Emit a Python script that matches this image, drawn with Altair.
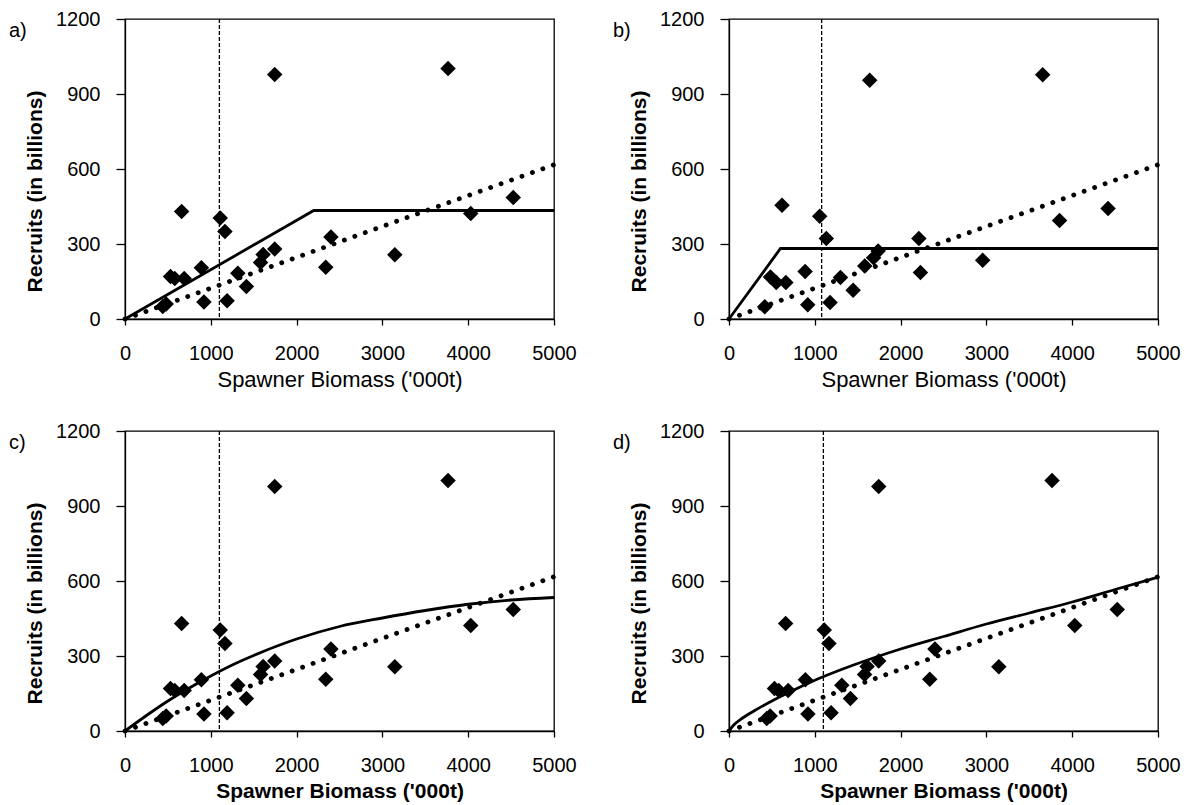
import altair as alt
import pandas as pd

FONT = "Liberation Sans"

# ---- observations (panels a, c, d share the same stock-recruit pairs) ----
ssb = [440, 480, 530, 580, 660, 690, 890, 920, 1110, 1165, 1190, 1315, 1415,
       1580, 1610, 1745, 1745, 2340, 2400, 3145, 3765, 4030, 4525]
rec = [50, 60, 170, 162, 430, 162, 205, 68, 404, 350, 73, 183, 130,
       226, 258, 280, 978, 207, 328, 257, 1002, 422, 486]

# ---- observations for panel b ----
ssb_b = [417, 484, 551, 618, 663, 887, 918, 1057, 1134, 1178, 1299, 1447,
         1582, 1640, 1685, 1738, 2213, 2231, 2957, 3656, 3853, 4418]
rec_b = [49, 168, 146, 455, 146, 190, 57, 411, 322, 66, 166, 115,
         212, 955, 245, 272, 322, 186, 235, 977, 394, 442]

# ---- proportional (dotted) reference line, all panels ----
reg_x = [0, 5000]
reg_y = [0, 617]

# ---- fitted curves ----
hs_a_x = [0, 2200, 5000]
hs_a_y = [0, 434, 434]
hs_b_x = [0, 600, 5000]
hs_b_y = [0, 282, 282]
bh_c_x = [0, 250, 500, 750, 1000, 1250, 1500, 1750, 2000, 2500, 3000, 3500, 4000, 4500, 5000]
bh_c_y = [0, 62, 120, 172, 220, 264, 302, 337, 368, 418, 452, 482, 507, 524, 534]
pw_d_x = [0, 50, 150, 300, 500, 750, 1000, 1250, 1500, 1750, 2000, 2500, 3000, 3500, 4000, 4500, 5000]
pw_d_y = [0, 22, 50, 82, 120, 163, 203, 238, 270, 300, 328, 378, 428, 472, 516, 566, 615]

# ---- vertical dashed reference biomass ----
vline_x = {"a": 1100, "b": 1080, "c": 1100, "d": 1100}

x_ticks = [0, 1000, 2000, 3000, 4000, 5000]
y_ticks = [0, 300, 600, 900, 1200]


def panel(label, px, py, fx, fy, vx, xtitle_weight, xtitle_size, interp):
    xscale = alt.Scale(domain=[0, 5000], nice=False)
    yscale = alt.Scale(domain=[0, 1200], nice=False)
    xaxis = alt.Axis(values=x_ticks, format="d", grid=False, tickSize=6,
                     labelPadding=18, labelFontSize=20, labelFont=FONT,
                     labelColor="black", labelFlush=False, labelOverlap=False,
                     domainColor="black", tickColor="black", domainWidth=1.3,
                     tickWidth=1.3,
                     title="Spawner Biomass ('000t)", titleFont=FONT,
                     titleFontSize=xtitle_size, titleFontWeight=xtitle_weight,
                     titleColor="black", titleY=60, titleBaseline="middle")
    yaxis = alt.Axis(values=y_ticks, format="d", grid=False, tickSize=9,
                     labelPadding=16, labelFontSize=20, labelFont=FONT,
                     labelColor="black", labelFlush=False, labelOverlap=False,
                     domainColor="black", tickColor="black", domainWidth=1.3,
                     tickWidth=1.3,
                     title="Recruits (in billions)", titleFont=FONT,
                     titleFontSize=21, titleFontWeight="bold",
                     titleColor="black", titleX=-90, titleY=172,
                     titleBaseline="middle", titleAngle=-90)
    X = alt.X("x:Q", scale=xscale, axis=xaxis)
    Y = alt.Y("y:Q", scale=yscale, axis=yaxis)

    pts = pd.DataFrame({"x": px, "y": py})
    fit = pd.DataFrame({"x": fx, "y": fy})
    reg = pd.DataFrame({"x": reg_x, "y": reg_y})
    vl = pd.DataFrame({"x": [vx]})
    lab = pd.DataFrame({"t": [label]})

    rule = alt.Chart(vl).mark_rule(color="black", strokeWidth=1.3,
                                   strokeDash=[4, 2]).encode(x=alt.X("x:Q", scale=xscale))
    dotted = alt.Chart(reg).mark_line(color="black", strokeWidth=4.8,
                                      strokeDash=[0.1, 11], strokeCap="round").encode(x=X, y=Y)
    solid = alt.Chart(fit).mark_line(color="black", strokeWidth=2.8,
                                     interpolate=interp).encode(x=X, y=Y)
    points = alt.Chart(pts).mark_point(shape="diamond", filled=True, size=240,
                                       color="black", opacity=1).encode(x=X, y=Y)
    text = alt.Chart(lab).mark_text(align="left", baseline="middle", fontSize=20,
                                    font=FONT, color="black").encode(
        x=alt.value(-116), y=alt.value(12), text="t:N")
    return alt.layer(points, rule, dotted, solid, text).properties(width=429, height=300)


pa = panel("a)", ssb, rec, hs_a_x, hs_a_y, vline_x["a"], "normal", 22, "linear")
pb = panel("b)", ssb_b, rec_b, hs_b_x, hs_b_y, vline_x["b"], "normal", 22, "linear")
pc = panel("c)", ssb, rec, bh_c_x, bh_c_y, vline_x["c"], "bold", 21, "monotone")
pd_ = panel("d)", ssb, rec, pw_d_x, pw_d_y, vline_x["d"], "bold", 21, "monotone")

chart = alt.concat(pa, pb, pc, pd_, columns=2, spacing={"row": 112, "column": 175},
                   bounds="flush").properties(
    padding=0, background="white"
).configure_view(stroke="black", strokeWidth=1.3)

chart.save("out.html", embed_options={"renderer": "svg", "actions": False})
